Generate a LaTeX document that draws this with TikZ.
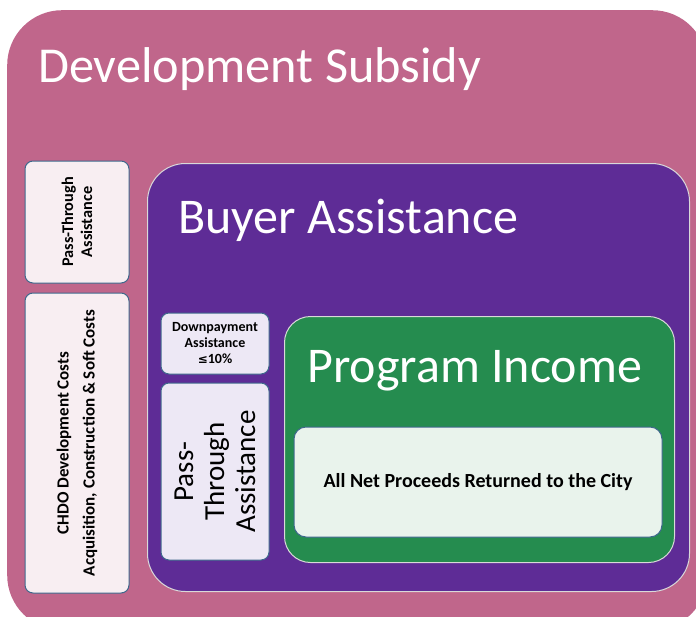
\documentclass[tikz,border=0pt]{standalone}
\usepackage{fontspec}
\setmainfont{Carlito}
\newfontfamily\symfont{DejaVu Sans}
\definecolor{pinkbg}{RGB}{192,102,139}
\definecolor{purplebg}{RGB}{94,44,150}
\definecolor{greenbg}{RGB}{37,140,79}
\definecolor{pinklight}{RGB}{248,238,242}
\definecolor{lavlight}{RGB}{237,232,245}
\definecolor{greenlight}{RGB}{233,243,236}
\definecolor{boxedge}{RGB}{62,104,140}
\tikzset{
  region/.style={draw=white!85!black, line width=1pt},
  smallbox/.style={draw=boxedge, line width=1pt, rounded corners=8pt, inner sep=0pt, align=center, text=black},
  title/.style={text=white, inner sep=0pt, anchor=base west},
}
\begin{document}
\begin{tikzpicture}[x=1pt,y=-1pt]
\useasboundingbox (0,0) rectangle (696,616);
\clip (0,0) rectangle (696,616);
\fill[white] (0,0) rectangle (696,616);
% outer development subsidy
\node[fill=pinkbg, rounded corners=55pt, minimum width=700pt, minimum height=620pt, inner sep=0pt, anchor=north west] (dev) at (7,10) {};
\node[title, font=\fontsize{50.3}{58}\selectfont] (devt) at (38,82) {Development Subsidy};
% left boxes
\node[smallbox, fill=pinklight, rotate=90, minimum width=122pt, minimum height=104pt, font=\bfseries\fontsize{16.3}{19}\selectfont] (pt1) at (77,222) {Pass-Through\\Assistance};
\node[smallbox, fill=pinklight, rotate=90, minimum width=300pt, minimum height=104pt, font=\bfseries\fontsize{17}{26}\selectfont] (chdo) at (77,443) {CHDO Development Costs\\Acquisition, Construction \& Soft Costs};
% buyer assistance
\node[region, fill=purplebg, rounded corners=38pt, minimum width=542pt, minimum height=428pt, inner sep=0pt, anchor=north west] (buyer) at (147,163) {};
\node[title, font=\fontsize{50}{58}\selectfont] (buyert) at (178,233) {Buyer Assistance};
\node[smallbox, fill=lavlight, minimum width=108pt, minimum height=61pt, font=\bfseries\fontsize{14}{16}\selectfont] (dpa) at (215,343.5) {Downpayment\\Assistance\\{\symfont\fontsize{12}{16}\selectfont ≤}10\%};
\node[smallbox, fill=lavlight, rotate=90, minimum width=177pt, minimum height=108pt, font=\fontsize{29}{31}\selectfont] (pt2) at (215,471.5) {Pass-\\Through\\Assistance};
% program income
\node[region, fill=greenbg, rounded corners=26pt, minimum width=390pt, minimum height=246pt, inner sep=0pt, anchor=north west] (pi) at (284,316) {};
\node[title, font=\fontsize{50}{58}\selectfont] (pit) at (307,382) {Program Income};
\node[smallbox, fill=greenlight, rounded corners=12pt, minimum width=368pt, minimum height=110pt, font=\bfseries\fontsize{20}{24}\selectfont] (net) at (478,482) {All Net Proceeds Returned to the City};
\end{tikzpicture}
\end{document}
